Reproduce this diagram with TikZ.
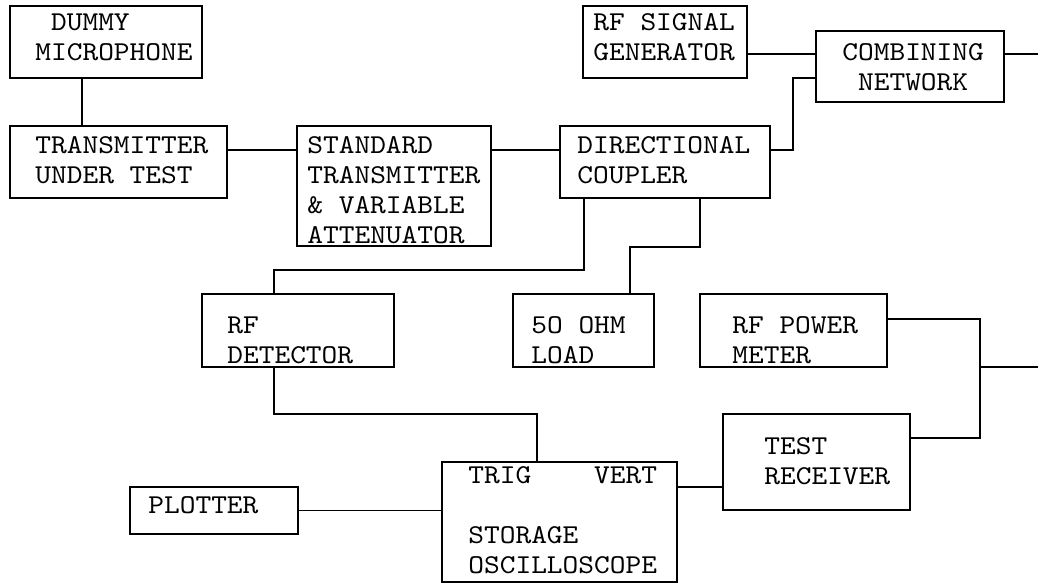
\documentclass[tikz,border=0pt]{standalone}
\usepackage{fontspec}
\newfontfamily\courier{lmmono10-regular.otf}[FakeStretch=1.1]
\usetikzlibrary{calc}
\tikzset{
  box/.style={draw, line width=1.1pt, anchor=north west, inner sep=0pt, outer sep=0pt},
  txt/.style={anchor=base west, inner sep=0pt, align=left,
    font=\courier\fontsize{15.5pt}{17pt}\selectfont},
  wire/.style={line width=1.1pt}
}
\begin{document}
\begin{tikzpicture}[x=0.02cm, y=-0.02cm]
  \useasboundingbox (0,0) rectangle (1038,583);

  % Boxes
  \node[box, minimum width=3.84cm, minimum height=1.44cm] (dm) at (10,6) {};
  \node[box, minimum width=4.34cm, minimum height=1.44cm] (tut) at (10,126) {};
  \node[box, minimum width=3.88cm, minimum height=2.40cm] (std) at (297,126) {};
  \node[box, minimum width=4.20cm, minimum height=1.44cm] (dc) at (560,126) {};
  \node[box, minimum width=3.28cm, minimum height=1.44cm] (rfsg) at (583,6) {};
  \node[box, minimum width=3.76cm, minimum height=1.42cm] (cn) at (816,31) {};
  \node[box, minimum width=3.84cm, minimum height=1.46cm] (rfd) at (202,294) {};
  \node[box, minimum width=2.82cm, minimum height=1.46cm] (load) at (513,294) {};
  \node[box, minimum width=3.74cm, minimum height=1.46cm] (rfpm) at (700,294) {};
  \node[box, minimum width=3.74cm, minimum height=1.92cm] (tr) at (723,414) {};
  \node[box, minimum width=4.70cm, minimum height=2.40cm] (so) at (442,462) {};
  \node[box, minimum width=3.36cm, minimum height=0.94cm] (plt) at (130,487) {};

  % Labels (placed at the baseline of the last line)
  \node[txt] (dm-t) at (35,60) {~DUMMY\\MICROPHONE};
  \node[txt] (tut-t) at (35,183) {TRANSMITTER\\UNDER TEST};
  \node[txt] (std-t) at (307,243) {STANDARD\\TRANSMITTER\\\& VARIABLE\\ATTENUATOR};
  \node[txt] (dc-t) at (577,183) {DIRECTIONAL\\COUPLER};
  \node[txt] (rfsg-t) at (593,60) {RF SIGNAL\\GENERATOR};
  \node[txt] (cn-t) at (842,90) {COMBINING\\~NETWORK};
  \node[txt] (rfd-t) at (227,363) {RF\\DETECTOR};
  \node[txt] (load-t) at (531,363) {5O OHM\\LOAD};
  \node[txt] (rfpm-t) at (732,363) {RF POWER\\METER};
  \node[txt] (tr-t) at (764,484) {TEST\\RECEIVER};
  \node[txt] (so-t) at (468,573) {TRIG~~~~VERT\\~\\STORAGE\\OSCILLOSCOPE};
  \node[txt] (plt-t) at (148,513) {PLOTTER};

  % Free ends at the right edge
  \coordinate (out1) at (1038,54);
  \coordinate (out2) at (1038,367);

  % Wires
  \draw[wire] ($(dm.south west)+(72,0)$) -- ($(tut.north west)+(72,0)$);
  \draw[wire] ($(tut.north east)+(0,24)$) -- ($(std.north west)+(0,24)$);
  \draw[wire] ($(std.north east)+(0,24)$) -- ($(dc.north west)+(0,24)$);
  \draw[wire] ($(dc.north east)+(0,24)$) -- ++(23,0) |- ($(cn.north west)+(0,47)$);
  \draw[wire] ($(rfsg.north east)+(0,48)$) -- ($(cn.north west)+(0,23)$);
  \draw[wire] ($(cn.north east)+(0,23)$) -- (out1);
  \draw[wire] ($(dc.south west)+(24,0)$) -- ++(0,72) -| ($(rfd.north west)+(72,0)$);
  \draw[wire] ($(dc.south west)+(140,0)$) -- ++(0,49) -| ($(load.north west)+(117,0)$);
  \draw[wire] ($(rfpm.north east)+(0,25)$) -- ++(93,0) |- ($(tr.north east)+(0,24)$);
  \draw[wire] ($(rfpm.south east)+(93,0)$) -- (out2);
  \draw[wire] ($(so.north east)+(0,25)$) -- ($(tr.north west)+(0,73)$);
  \draw[wire] ($(rfd.south west)+(72,0)$) -- ++(0,47) -| ($(so.north west)+(95,0)$);
  \draw[wire] (plt.east) -- (plt.east -| so.west);
\end{tikzpicture}
\end{document}
